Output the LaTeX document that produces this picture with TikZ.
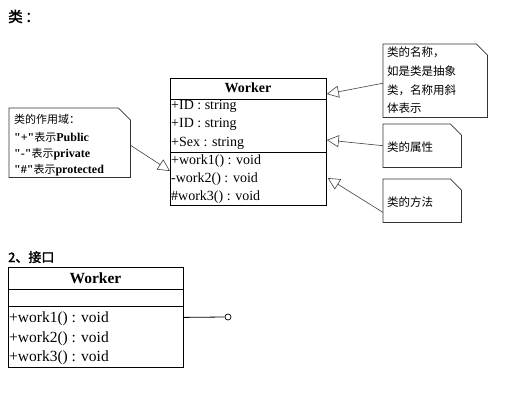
\documentclass[tikz,border=0pt]{standalone}
\usepackage{fontspec}
\setmainfont{Liberation Serif}
\newfontfamily\qfont[Ligatures=ResetAll]{Liberation Serif}
\newfontfamily\cjk{Noto Sans CJK SC}
\newfontfamily\cjkb[FakeBold=2]{Noto Sans CJK SC}
\usetikzlibrary{arrows.meta}
\newcommand\dognote[2]{\draw[noteline] (#1.north west) -- ([xshift=-#2pt]#1.north east) -- ([yshift=-#2pt]#1.north east) -- (#1.south east) -- (#1.south west) -- cycle;}
\begin{document}
\begin{tikzpicture}[x=1pt,y=-1pt,
  boxline/.style={draw=black, line width=0.8pt},
  area/.style={draw=none, inner sep=0pt, anchor=north west},
  noteline/.style={draw=black!80, line width=0.7pt},
  txt/.style={anchor=base west, inner sep=0pt, font=\fontsize{14}{14}\selectfont},
  itxt/.style={anchor=base west, inner sep=0pt, font=\fontsize{15.5}{15.5}\selectfont},
  cn/.style={anchor=base west, inner sep=0pt, font=\cjk\fontsize{11.5}{11.5}\selectfont},
  lcn/.style={anchor=base west, inner sep=0pt, font=\qfont\fontsize{12}{12}\selectfont},
  head/.style={anchor=base west, inner sep=0pt, font=\cjkb\fontsize{13}{13}\selectfont},
  tri/.style={-{Triangle[open,length=12pt,width=12pt]}, draw=black!75, line width=0.6pt}]
\useasboundingbox (0,0) rectangle (517,410);

% headings
\node[head, font=\cjkb\fontsize{14.5}{14.5}\selectfont] (h1) at (8,22) {类\,：};
\node[head] (h2) at (8,262) {2、接口};

% class box
\node[area, boxline, minimum width=156pt, minimum height=127pt] (cls) at (170,78) {};
\draw[boxline] ([yshift=-21pt]cls.north west) -- ([yshift=-21pt]cls.north east);
\draw[boxline] ([yshift=-74pt]cls.north west) -- ([yshift=-74pt]cls.north east);
\node[anchor=base, inner sep=0pt, font=\bfseries\fontsize{14}{14}\selectfont] (cname) at (248,92) {Worker};
\node[txt] (a1) at (171,109) {+ID : string};
\node[txt] (a2) at (171,127) {+ID : string};
\node[txt] (a3) at (171,146) {+Sex : string};
\node[txt] (m1) at (171,164) {+work1() : void};
\node[txt] (m2) at (171,182) {-work2() : void};
\node[txt] (m3) at (171,200) {\#work3() : void};

% notes on the right
\node[area, minimum width=104pt, minimum height=73pt] (n1) at (383,44) {};
\dognote{n1}{11}
\node[cn] (n1a) at (387,56) {类的名称，};
\node[cn] (n1b) at (387,75) {如是类是抽象};
\node[cn] (n1c) at (387,94) {类，名称用斜};
\node[cn] (n1d) at (387,112) {体表示};

\node[area, minimum width=78pt, minimum height=43pt] (n2) at (383,124) {};
\dognote{n2}{11}
\node[cn] (n2a) at (387,151) {类的属性};

\node[area, minimum width=78pt, minimum height=43pt] (n3) at (383,179) {};
\dognote{n3}{11}
\node[cn] (n3a) at (387,206) {类的方法};

% note on the left
\node[area, minimum width=121pt, minimum height=69pt] (ln) at (9,108) {};
\dognote{ln}{12}
\node[lcn] (l1) at (14,123) {\cjk\fontsize{11}{11}\selectfont 类的作用域：};
\node[lcn] (l2) at (14,141) {\textbf{"+"}{\cjk\fontsize{11}{11}\selectfont 表示}\textbf{Public}};
\node[lcn] (l3) at (14,157) {\textbf{"-"}{\cjk\fontsize{11}{11}\selectfont 表示}\textbf{private}};
\node[lcn] (l4) at (14,173) {\textbf{"\#"}{\cjk\fontsize{11}{11}\selectfont 表示}\textbf{protected}};

% connectors
\draw[tri] ([yshift=-2.5pt]n1.west) -- ([yshift=-16pt]cls.north east);
\draw[tri] (n2.west) -- ([yshift=-62pt]cls.north east);
\draw[tri] ([yshift=10pt]n3.south west) -- ([yshift=-100pt,xshift=1pt]cls.north east);
\draw[tri] ([yshift=-2.5pt]ln.east) -- ([yshift=-93pt]cls.north west);

% interface
\node[area, boxline, minimum width=175pt, minimum height=100pt] (ifc) at (8,267) {};
\draw[boxline] ([yshift=-22pt]ifc.north west) -- ([yshift=-22pt]ifc.north east);
\draw[boxline] ([yshift=-39pt]ifc.north west) -- ([yshift=-39pt]ifc.north east);
\node[anchor=base, inner sep=0pt, font=\bfseries\fontsize{15.5}{15.5}\selectfont] (iname) at (95.5,283) {Worker};
\node[itxt] (i1) at (9,322) {+work1() : void};
\node[itxt] (i2) at (9,342) {+work2() : void};
\node[itxt] (i3) at (9,361) {+work3() : void};
\node[circle, draw=black, line width=0.7pt, minimum size=6pt, inner sep=0pt] (ball) at (228,317) {};
\draw[line width=0.8pt] (ifc.east) -- (ball.west);
\end{tikzpicture}
\end{document}
